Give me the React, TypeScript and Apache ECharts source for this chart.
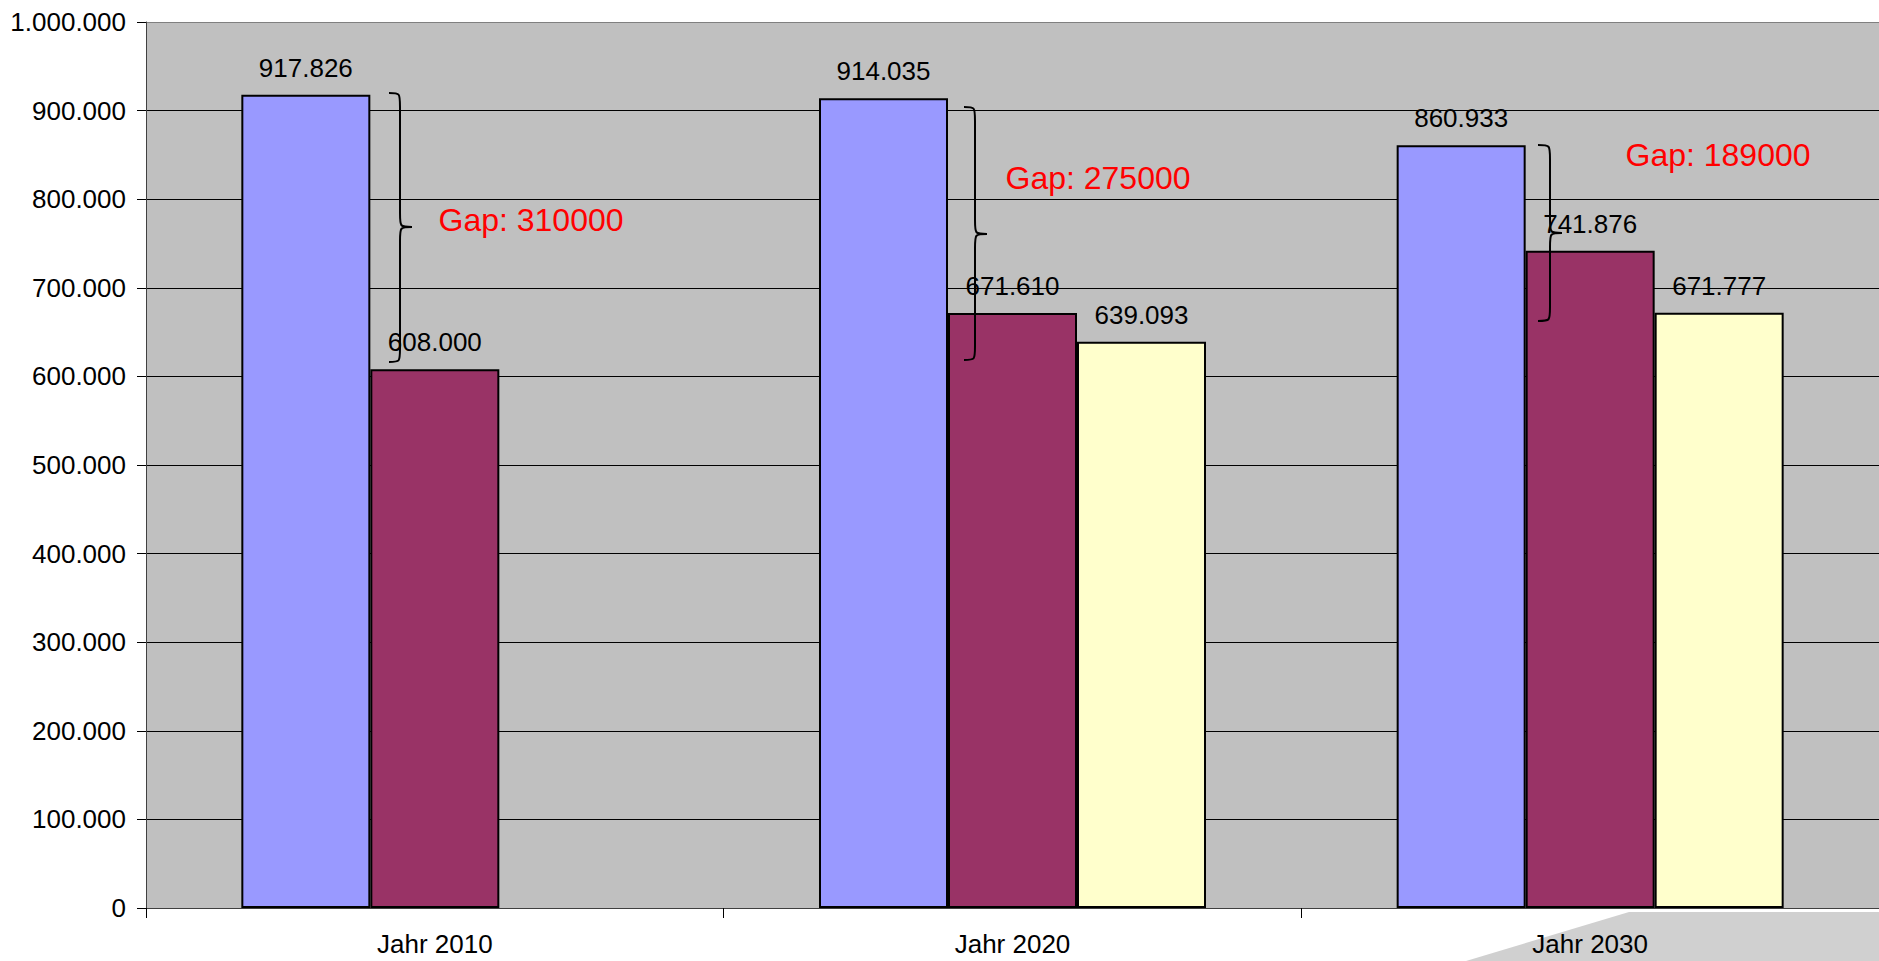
import React, { useEffect, useRef } from "react";
import * as echarts from "echarts";

const categories = ["Jahr 2010", "Jahr 2020", "Jahr 2030"];
const seriesBlue = [917826, 914035, 860933];
const seriesPurple = [608000, 671610, 741876];
const seriesYellow: (number | null)[] = [null, 639093, 671777];
const yMin = 0;
const yMax = 1000000;
const yStep = 100000;
const gapLabels = ["Gap: 310000", "Gap: 275000", "Gap: 189000"];

// annotation geometry (pixels)
const gapTextPos = [
  [531, 220],
  [1098, 178],
  [1718, 155],
];
const bracePos = [
  [389, 400, 412, 93, 227, 362],
  [964, 975, 987, 107, 234, 360],
  [1538, 1550, 1562, 145, 233, 321],
];

function fmt(v: number): string {
  const s = Math.round(v).toString();
  return s.replace(/\B(?=(\d{3})+(?!\d))/g, ".");
}

function bracePath(x0: number, xv: number, xt: number, yT: number, yM: number, yB: number) {
  const r = 14;
  return (
    `M${x0} ${yT} C${xv} ${yT} ${xv} ${yT} ${xv} ${yT + r} ` +
    `L${xv} ${yM - r} C${xv} ${yM} ${xv} ${yM} ${xt} ${yM} ` +
    `C${xv} ${yM} ${xv} ${yM} ${xv} ${yM + r} ` +
    `L${xv} ${yB - r} C${xv} ${yB} ${xv} ${yB} ${x0} ${yB}`
  );
}

const braceD = bracePos.map((b) => bracePath(b[0], b[1], b[2], b[3], b[4], b[5])).join(" ");
echarts.graphic.registerShape("braces", echarts.graphic.extendPath(braceD, {}));

const FONT = "Liberation Sans, Arial, sans-serif";

export default function App() {
  const ref = useRef<HTMLDivElement>(null);
  useEffect(() => {
    if (!ref.current) return;
    const chart = echarts.init(ref.current, undefined, { renderer: "svg" });
    const lbl = {
      show: true,
      position: "top",
      distance: 14,
      fontSize: 26,
      color: "#000",
      fontFamily: FONT,
      formatter: (p: any) => fmt(p.value),
    };
    const itemBorder = { borderColor: "#000", borderWidth: 2 };
    const splitColors: string[] = [];
    for (let v = yMin; v <= yMax; v += yStep) {
      splitColors.push(v === yMax ? "#808080" : "#000");
    }
    chart.setOption({
      animation: false,
      backgroundColor: "#fff",
      textStyle: { fontFamily: FONT },
      grid: {
        left: 146,
        top: 22,
        width: 1737,
        height: 886,
        show: true,
        backgroundColor: "#C0C0C0",
        borderWidth: 0,
      },
      xAxis: {
        type: "category",
        data: categories,
        axisLine: { show: true, lineStyle: { color: "#404040", width: 1 } },
        axisTick: { show: true, length: 10, lineStyle: { color: "#000" } },
        axisLabel: { fontSize: 26, color: "#000", margin: 23, fontFamily: FONT },
        splitLine: { show: false },
      },
      yAxis: {
        type: "value",
        min: yMin,
        max: yMax,
        interval: yStep,
        axisLine: { show: true, lineStyle: { color: "#404040", width: 1 } },
        axisTick: { show: true, length: 9, lineStyle: { color: "#000" } },
        axisLabel: {
          fontSize: 26,
          color: "#000",
          margin: 20,
          fontFamily: FONT,
          formatter: (v: number) => fmt(v),
        },
        splitLine: { show: true, lineStyle: { color: splitColors, width: 1 } },
      },
      series: [
        {
          type: "bar",
          data: seriesBlue,
          barGap: "0%",
          barWidth: 129,
          itemStyle: { color: "#9999FF", ...itemBorder },
          label: lbl,
        },
        {
          type: "bar",
          data: seriesPurple,
          barGap: "0%",
          barWidth: 129,
          itemStyle: { color: "#993366", ...itemBorder },
          label: lbl,
        },
        {
          type: "bar",
          data: seriesYellow,
          barGap: "0%",
          barWidth: 129,
          itemStyle: { color: "#FFFFCC", ...itemBorder },
          label: lbl,
        },
      ],
      graphic: [
        {
          type: "polygon",
          z: -10,
          silent: true,
          shape: {
            points: [
              [1466, 961],
              [1629, 912],
              [1879, 912],
              [1879, 961],
            ],
          },
          style: { fill: "#D0D0D0" },
        },
        {
          type: "braces",
          x: 0,
          y: 0,
          scaleX: 1,
          scaleY: 1,
          z: 100,
          silent: true,
          style: { fill: "none", stroke: "#000", lineWidth: 2 },
        },
        ...gapLabels.map((t, i) => ({
          type: "text",
          x: gapTextPos[i][0],
          y: gapTextPos[i][1],
          z: 100,
          silent: true,
          style: {
            text: t,
            fill: "#FF0000",
            fontSize: 32,
            fontFamily: FONT,
            textAlign: "center",
            textVerticalAlign: "middle",
          },
        })),
      ],
    });
    return () => chart.dispose();
  }, []);
  return (
    <div
      ref={ref}
      style={{ position: "absolute", left: 0, top: 0, width: 1879, height: 961 }}
    />
  );
}
